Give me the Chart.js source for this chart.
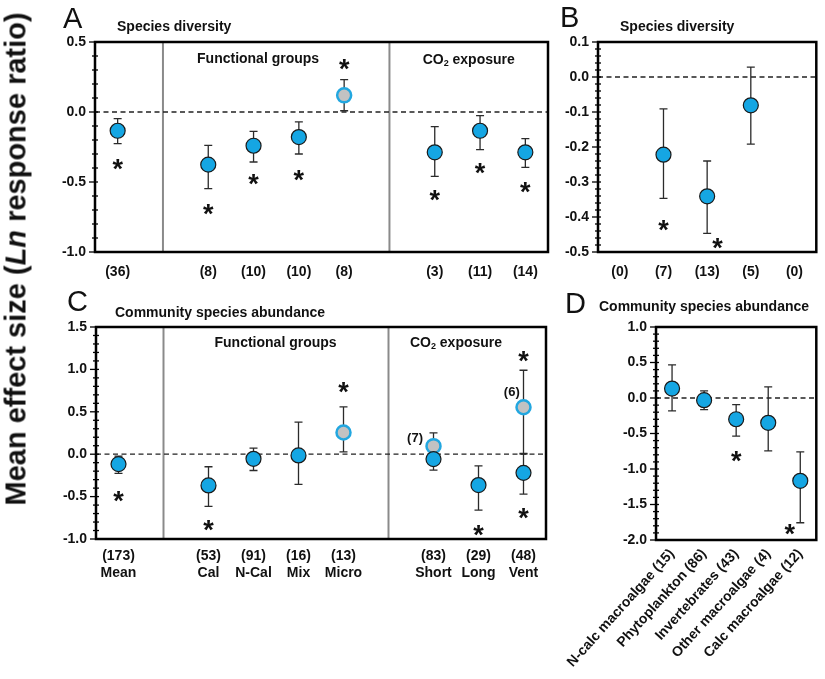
<!DOCTYPE html>
<html>
<head>
<meta charset="utf-8">
<script src="https://cdn.jsdelivr.net/npm/chart.js@4.4.0/dist/chart.umd.min.js"></script>
<style>
  body { margin: 0; background: #fff; }
  #wrap { position: relative; width: 825px; height: 679px; overflow: hidden; }
  canvas { position: absolute; }
  #ytitle {
    position: absolute; left: 16px; top: 259px;
    transform: translate(-50%, -50%) rotate(-90deg);
    font: bold 29px "Liberation Sans", Arial, sans-serif;
    white-space: nowrap; color: #111;
  }
</style>
</head>
<body>
<div id="wrap">
  <canvas id="chartA" width="560" height="300" style="left:0;top:0"></canvas>
  <canvas id="chartB" width="265" height="300" style="left:560px;top:0"></canvas>
  <canvas id="chartC" width="560" height="399" style="left:0;top:280px"></canvas>
  <canvas id="chartD" width="265" height="399" style="left:560px;top:280px"></canvas>
  <div id="ytitle">Mean effect size (<i>Ln</i> response ratio)</div>
</div>
<script>
// A - species diversity
const aLabels = ['(36)', '', '(8)', '(10)', '(10)', '(8)', '', '(3)', '(11)', '(14)'];
const aMean = [-0.134, null, -0.376, -0.241, -0.179, 0.119, null, -0.288, -0.134, -0.288];
const aLow  = [-0.226, null, -0.548, -0.357, -0.300, 0.009, null, -0.460, -0.269, -0.395];
const aHigh = [-0.048, null, -0.238, -0.138, -0.071, 0.231, null, -0.105, -0.026, -0.190];
const aGrey = [5];
const aStars = [[0, -0.363], [2, -0.684], [3, -0.469], [4, -0.441], [5, 0.352], [7, -0.584], [8, -0.389], [9, -0.526]];
const aYTicks = [-1.0, -0.5, 0.0, 0.5];

// B - species diversity by taxon
const bLabels = ['(0)', '(7)', '(13)', '(5)', '(0)'];
const bMean = [null, -0.222, -0.341, -0.081, null];
const bLow  = [null, -0.347, -0.447, -0.192, null];
const bHigh = [null, -0.091, -0.240, 0.028, null];
const bStars = [[1, -0.419], [2.24, -0.472]];
const bYTicks = [-0.5, -0.4, -0.3, -0.2, -0.1, 0.0, 0.1];

// C - community species abundance
const cLabels = [['(173)', 'Mean'], ['', ''], ['(53)', 'Cal'], ['(91)', 'N-Cal'], ['(16)', 'Mix'], ['(13)', 'Micro'], ['', ''], ['(83)', 'Short'], ['(29)', 'Long'], ['(48)', 'Vent']];
const cMean = [-0.117, null, -0.368, -0.054, -0.015, null, null, -0.058, -0.364, -0.220];
const cLow  = [-0.227, null, -0.615, -0.192, -0.356, null, null, -0.188, -0.660, -0.470];
const cHigh = [-0.023, null, -0.148, 0.071, 0.378, null, null, 0.060, -0.137, 0.000];
const cGreyMean = [null, null, null, null, null, 0.256, null, 0.095, null, 0.554];
const cGreyLow  = [null, null, null, null, null, 0.028, null, -0.050, null, 0.010];
const cGreyHigh = [null, null, null, null, null, 0.558, null, 0.252, null, 0.990];
const cStars = [[0, -0.474], [2, -0.816], [5, 0.801], [8, -0.886], [9, 1.167], [9, -0.679]];
const cYTicks = [-1.0, -0.5, 0.0, 0.5, 1.0, 1.5];

// D - community species abundance by taxon
const dLabels = ['N-calc macroalgae (15)', 'Phytoplankton (86)', 'Invertebrates (43)', 'Other macroalgae (4)', 'Calc macroalgae (12)'];
const dMean = [0.133, -0.031, -0.299, -0.350, -1.166];
const dLow  = [-0.181, -0.163, -0.538, -0.744, -1.757];
const dHigh = [0.466, 0.100, -0.092, 0.156, -0.758];
const dStars = [[2, -0.805], [3.67, -1.836]];
const dYTicks = [-2.0, -1.5, -1.0, -0.5, 0.0, 0.5, 1.0];

const FONT = '"Liberation Sans", Arial, sans-serif';
Chart.defaults.font.family = FONT;
Chart.defaults.color = '#111';

function points(mean, low, high, keep) {
  const out = [];
  mean.forEach((v, i) => {
    if (v === null || !keep(i)) return;
    out.push({ x: i, y: v, lo: low[i], hi: high[i] });
  });
  return out;
}

const blue = { backgroundColor: '#15a6e3', borderColor: '#1a1a1a', borderWidth: 1.2, pointRadius: 7.5 };
const grey = { backgroundColor: '#c2c2c2', borderColor: '#22a7e0', borderWidth: 2.5, pointRadius: 7 };

function co2Text(ctx, cx, cy) {
  // "CO2 exposure" with subscript 2
  const big = 'bold 14px ' + FONT, small = 'bold 9px ' + FONT;
  ctx.font = big; const w1 = ctx.measureText('CO').width; const w3 = ctx.measureText(' exposure').width;
  ctx.font = small; const w2 = ctx.measureText('2').width;
  let x = cx - (w1 + w2 + w3) / 2;
  ctx.textAlign = 'left'; ctx.textBaseline = 'middle';
  ctx.font = big; ctx.fillText('CO', x, cy); x += w1;
  ctx.font = small; ctx.fillText('2', x, cy + 4); x += w2;
  ctx.font = big; ctx.fillText(' exposure', x, cy);
}

function panelDecor(spec) {
  return {
    id: 'panelDecor',
    beforeDatasetsDraw(chart) {
      const { ctx, chartArea: ca, scales: { x, y } } = chart;
      ctx.save();
      ctx.strokeStyle = '#8a8a8a'; ctx.lineWidth = 2;
      (spec.dividers || []).forEach(d => {
        const px = x.getPixelForValue(d);
        ctx.beginPath(); ctx.moveTo(px, ca.top); ctx.lineTo(px, ca.bottom); ctx.stroke();
      });
      const y0 = y.getPixelForValue(0);
      ctx.strokeStyle = '#222'; ctx.lineWidth = 1.3; ctx.setLineDash([5, 3.5]);
      ctx.beginPath(); ctx.moveTo(ca.left, y0); ctx.lineTo(ca.right, y0); ctx.stroke();
      ctx.setLineDash([]);
      ctx.strokeStyle = '#2b2b2b'; ctx.lineWidth = 1.3;
      chart.data.datasets.forEach(ds => ds.data.forEach(p => {
        const px = x.getPixelForValue(p.x), lo = y.getPixelForValue(p.lo), hi = y.getPixelForValue(p.hi);
        ctx.beginPath();
        ctx.moveTo(px, lo); ctx.lineTo(px, hi);
        ctx.moveTo(px - 4, lo); ctx.lineTo(px + 4, lo);
        ctx.moveTo(px - 4, hi); ctx.lineTo(px + 4, hi);
        ctx.stroke();
      }));
      ctx.restore();
    },
    afterDraw(chart) {
      const { ctx, chartArea: ca, scales: { x, y } } = chart;
      ctx.save();
      // frame
      ctx.strokeStyle = '#000'; ctx.lineWidth = 2.5;
      ctx.strokeRect(ca.left, ca.top, ca.width, ca.height);
      // y ticks, major and minor
      ctx.lineWidth = 1.3;
      const lo = y.min, hi = y.max;
      const n = Math.round((hi - lo) / spec.minor);
      for (let k = 0; k <= n; k++) {
        const v = lo + k * spec.minor;
        const py = y.getPixelForValue(v);
        const major = Math.abs(v / spec.major - Math.round(v / spec.major)) < 1e-6;
        ctx.beginPath();
        ctx.moveTo(ca.left - (major ? 6 : 3), py); ctx.lineTo(ca.left + 3, py);
        ctx.stroke();
      }
      // asterisks
      ctx.fillStyle = '#111'; ctx.textAlign = 'center'; ctx.textBaseline = 'alphabetic';
      ctx.font = 'bold 27px ' + FONT;
      spec.stars.forEach(([sx, sy]) => {
        ctx.fillText('*', x.getPixelForValue(sx), y.getPixelForValue(sy) + 27 * 0.56);
      });
      // panel letter and title
      ctx.textAlign = 'left'; ctx.textBaseline = 'alphabetic';
      ctx.font = '29px ' + FONT;
      ctx.fillText(spec.letter[0], spec.letter[1], spec.letter[2]);
      ctx.textBaseline = 'middle';
      ctx.font = 'bold 14px ' + FONT;
      ctx.fillText(spec.title[0], spec.title[1], spec.title[2]);
      // group headings
      (spec.groups || []).forEach(([t, gx, dy]) => {
        const px = x.getPixelForValue(gx), py = ca.top + dy;
        if (t === 'CO2') { co2Text(ctx, px, py); }
        else { ctx.textAlign = 'center'; ctx.font = 'bold 14px ' + FONT; ctx.fillText(t, px, py); }
      });
      // small n notes
      ctx.textAlign = 'center'; ctx.font = 'bold 13px ' + FONT;
      (spec.notes || []).forEach(([t, nx, ny]) => {
        ctx.fillText(t, x.getPixelForValue(nx), y.getPixelForValue(ny));
      });
      ctx.restore();
    }
  };
}

function makeChart(id, cfg) {
  return new Chart(document.getElementById(id), {
    type: 'scatter',
    data: { datasets: cfg.datasets },
    options: {
      responsive: false,
      animation: false,
      devicePixelRatio: 1,
      layout: { padding: { top: cfg.top, right: cfg.right, left: 0, bottom: 0 } },
      plugins: { legend: { display: false }, tooltip: { enabled: false } },
      scales: {
        x: {
          type: 'linear',
          min: -0.5,
          max: cfg.xLabels.length - 0.5,
          afterBuildTicks: s => { s.ticks = cfg.xLabels.map((_, i) => ({ value: i })); },
          afterFit: s => { s.height = cfg.xh; },
          grid: { display: false, drawTicks: false },
          border: { display: false },
          ticks: {
            autoSkip: false,
            maxRotation: cfg.rot, minRotation: cfg.rot,
            padding: cfg.xPad,
            font: { size: 14, weight: 'bold', lineHeight: 1.18 },
            color: '#111',
            callback: v => cfg.xLabels[v]
          }
        },
        y: {
          type: 'linear',
          min: cfg.yTicks[0],
          max: cfg.yTicks[cfg.yTicks.length - 1],
          afterBuildTicks: s => { s.ticks = cfg.yTicks.map(v => ({ value: v })); },
          afterFit: s => { s.width = cfg.yw; },
          grid: { display: false, drawTicks: false },
          border: { display: false },
          ticks: {
            padding: 9,
            font: { size: 14, weight: 'bold' },
            color: '#111',
            callback: v => v.toFixed(1)
          }
        }
      }
    },
    plugins: [panelDecor(cfg)]
  });
}

makeChart('chartA', {
  datasets: [
    Object.assign({ data: points(aMean, aLow, aHigh, i => !aGrey.includes(i)) }, blue),
    Object.assign({ data: points(aMean, aLow, aHigh, i => aGrey.includes(i)) }, grey)
  ],
  xLabels: aLabels, yTicks: aYTicks, stars: aStars,
  top: 42, right: 12, yw: 95, xh: 48, xPad: 12, rot: 0,
  major: 0.5, minor: 0.1, dividers: [1, 6],
  letter: ['A', 63, 28], title: ['Species diversity', 117, 27],
  groups: [['Functional groups', 3.1, 17], ['CO2', 7.75, 18]]
});

makeChart('chartB', {
  datasets: [Object.assign({ data: points(bMean, bLow, bHigh, () => true) }, blue)],
  xLabels: bLabels, yTicks: bYTicks, stars: bStars,
  top: 42, right: 2, yw: 38, xh: 48, xPad: 12, rot: 0,
  major: 0.1, minor: 0.02,
  letter: ['B', 0, 27], title: ['Species diversity', 60, 27]
});

makeChart('chartC', {
  datasets: [
    Object.assign({ data: points(cMean, cLow, cHigh, () => true) }, blue),
    Object.assign({ data: points(cGreyMean, cGreyLow, cGreyHigh, () => true) }, grey)
  ],
  xLabels: cLabels, yTicks: cYTicks, stars: cStars,
  top: 47, right: 14, yw: 96, xh: 140, xPad: 9, rot: 0,
  major: 0.5, minor: 0.1, dividers: [1, 6],
  letter: ['C', 67, 31], title: ['Community species abundance', 115, 33],
  groups: [['Functional groups', 3.49, 16], ['CO2', 7.5, 16]],
  notes: [['(7)', 6.59, 0.19], ['(6)', 8.74, 0.73]]
});

makeChart('chartD', {
  datasets: [Object.assign({ data: points(dMean, dLow, dHigh, () => true) }, blue)],
  xLabels: dLabels, yTicks: dYTicks, stars: dStars,
  top: 47, right: 2, yw: 40, xh: 139, xPad: 6, rot: 48,
  major: 0.5, minor: 0.1,
  letter: ['D', 5, 33], title: ['Community species abundance', 39, 27]
});
</script>
</body>
</html>
